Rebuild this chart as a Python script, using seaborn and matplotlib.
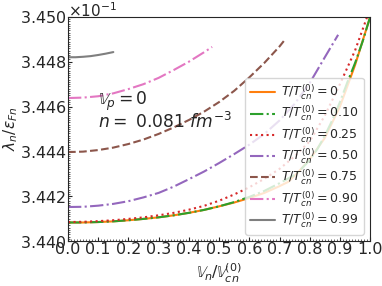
import numpy as np
import pandas as pd
import matplotlib
matplotlib.use('Agg')
import matplotlib.pyplot as plt
import matplotlib.transforms as mtransforms
import seaborn as sns
from matplotlib.ticker import MultipleLocator

# datos (lambda_n/eps_Fn en unidades de 1e-1)
x_t000 = [0.0, 0.05, 0.1, 0.15, 0.2, 0.25, 0.3, 0.35, 0.4, 0.45, 0.5, 0.55, 0.6, 0.65, 0.7,
          0.73, 0.76, 0.8, 0.85, 0.9, 0.95, 1.0]
y_t000 = [3.44083, 3.44083, 3.44085, 3.44088, 3.44093, 3.44099, 3.44106, 3.44115, 3.44126,
          3.44139, 3.44155, 3.44172, 3.44192, 3.44215, 3.44245, 3.44265, 3.44305, 3.44365,
          3.44460, 3.44600, 3.44785, 3.45000]
x_t010 = [0.0, 0.05, 0.1, 0.15, 0.2, 0.25, 0.3, 0.35, 0.4, 0.45, 0.5, 0.55, 0.6, 0.65, 0.7,
          0.75, 0.775, 0.8, 0.825, 0.85, 0.875, 0.9, 0.925, 0.95, 0.975, 1.0]
y_t010 = [3.44083, 3.44083, 3.44085, 3.44088, 3.44093, 3.44099, 3.44106, 3.44115, 3.44126,
          3.44139, 3.44155, 3.44174, 3.44197, 3.44224, 3.44258, 3.44295, 3.44325, 3.44362,
          3.44410, 3.44470, 3.44540, 3.44620, 3.44710, 3.44794, 3.44890, 3.45000]
x_t025 = [0.0, 0.05, 0.1, 0.15, 0.2, 0.25, 0.3, 0.35, 0.4, 0.45, 0.5, 0.55, 0.6, 0.65, 0.7,
          0.75, 0.8, 0.85, 0.9, 0.95, 0.99]
y_t025 = [3.44085, 3.44086, 3.44089, 3.44093, 3.44099, 3.44106, 3.44115, 3.44126, 3.44140,
          3.44157, 3.44180, 3.44208, 3.44240, 3.44278, 3.44322, 3.44378, 3.44445, 3.44560,
          3.44700, 3.44850, 3.45000]
x_t050 = [0.0, 0.05, 0.1, 0.15, 0.2, 0.25, 0.3, 0.35, 0.4, 0.45, 0.5, 0.55, 0.6, 0.65, 0.7,
          0.75, 0.8, 0.85, 0.894]
y_t050 = [3.44152, 3.44153, 3.44158, 3.44166, 3.44178, 3.44195, 3.44215, 3.44243, 3.44276,
          3.44310, 3.44348, 3.44388, 3.44430, 3.44478, 3.44538, 3.44612, 3.44705, 3.44820,
          3.44920]
x_t075 = [0.0, 0.05, 0.1, 0.15, 0.2, 0.25, 0.3, 0.35, 0.4, 0.45, 0.5, 0.55, 0.6, 0.65, 0.7, 0.72]
y_t075 = [3.44397, 3.44399, 3.44406, 3.44417, 3.44433, 3.44453, 3.44478, 3.44507, 3.44540,
          3.44577, 3.44620, 3.44670, 3.44730, 3.44795, 3.44868, 3.44902]
x_t090 = [0.0, 0.05, 0.1, 0.15, 0.2, 0.25, 0.3, 0.35, 0.4, 0.45, 0.477]
y_t090 = [3.44638, 3.44640, 3.44646, 3.44659, 3.44678, 3.44700, 3.44728, 3.44763, 3.44800,
          3.44842, 3.44866]
x_t099 = [0.0, 0.025, 0.05, 0.075, 0.1, 0.125, 0.15]
y_t099 = [3.44820, 3.44820, 3.44822, 3.44825, 3.44830, 3.44836, 3.44843]

etiquetas = ['0', '0.10', '0.25', '0.50', '0.75', '0.90', '0.99']
xs = [x_t000, x_t010, x_t025, x_t050, x_t075, x_t090, x_t099]
ys = [y_t000, y_t010, y_t025, y_t050, y_t075, y_t090, y_t099]
colores = ['C1', 'C2', 'C3', 'C4', 'C5', 'C6', 'C7']
estilos = ['-', '-.', ':', '-.', '--', '-.', '-']

sns.set_style('ticks')
plt.rcParams['font.family'] = ['DejaVu Sans']

fig, ax = plt.subplots(figsize=(3.82, 2.86), dpi=100)
fig.subplots_adjust(left=0.178, right=0.969, bottom=0.157, top=0.941)

for x, y, et, c, ls in zip(xs, ys, etiquetas, colores, estilos):
    df = pd.DataFrame({'x': x, 'y': np.array(y) * 1e-1})
    sns.lineplot(data=df, x='x', y='y', ax=ax, color=c, linestyle=ls, linewidth=1.5,
                 label=r'$T/T_{cn}^{(0)}=$' + et)

ax.set_xlim(0, 1)
ax.set_ylim(0.3440, 0.3450)
ax.set_xticks(np.arange(0, 1.01, 0.1))
ax.xaxis.set_minor_locator(MultipleLocator(0.01))
ax.yaxis.set_minor_locator(MultipleLocator(0.00001))
ax.ticklabel_format(axis='y', style='sci', scilimits=(0, 0), useOffset=False, useMathText=True)
ax.tick_params(which='major', direction='in', labelsize=11.5, length=3, width=0.8, pad=1)
ax.tick_params(which='minor', direction='in', length=1.5, width=0.5)
ot = ax.yaxis.get_offset_text()
ot.set_fontsize(11)
ot.set_transform(ot.get_transform() + mtransforms.ScaledTranslation(0, -3 / 72, fig.dpi_scale_trans))

ax.set_xlabel(r'$\mathbb{V}_n/\mathbb{V}_{cn}^{(0)}$', fontsize=11.5, labelpad=3)
ax.set_ylabel(r'$\lambda_n/\varepsilon_{Fn}$', fontsize=11, labelpad=0)

ax.text(0.10, 0.607, r'$\mathbb{V}_p=0$', transform=ax.transAxes, fontsize=12.3)
ax.text(0.10, 0.504, r'$n=$ 0.081 $fm^{-3}$', transform=ax.transAxes, fontsize=12.3)

ax.legend(loc='lower right', fontsize=9, handlelength=2.0, handletextpad=0.5, labelspacing=0.15)

fig.savefig('out.png', dpi=100)
